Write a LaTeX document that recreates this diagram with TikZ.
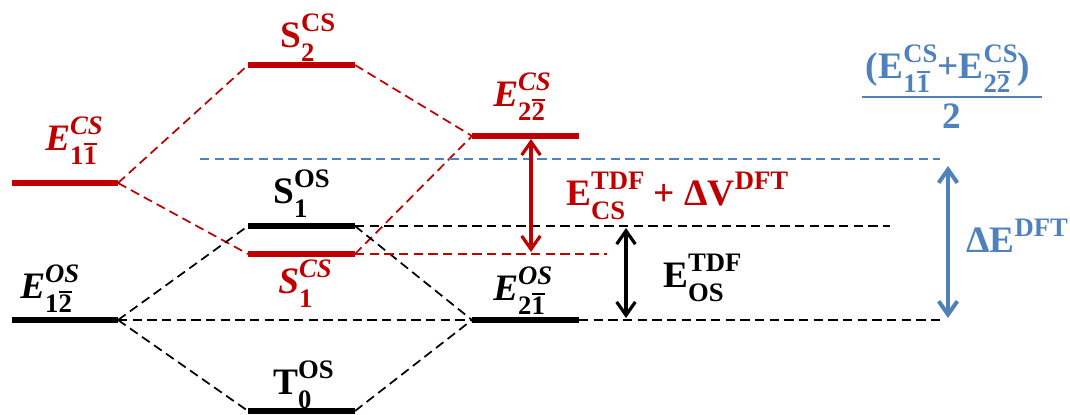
\documentclass[tikz,border=0pt]{standalone}
\usepackage{fontspec}
\setmainfont{Liberation Serif}
\usetikzlibrary{arrows.meta}

\definecolor{cred}{RGB}{192,0,0}
\definecolor{cblue}{RGB}{79,129,189}

% base letter with a stacked superscript (#2) and subscript (#3)
\newcommand\sps[3]{{#1}{\fontsize{20}{20}\selectfont
  \setbox0\hbox{#2}\setbox2\hbox{#3}%
  \dimen0=\wd0 \ifdim\wd2>\dimen0 \dimen0=\wd2 \fi
  \rlap{\raise12pt\box0}\rlap{\lower11pt\box2}\kern\dimen0}}
% digit with an overbar
\newcommand\ob[1]{\vbox{\hrule height 1.5pt\kern1.3pt\hbox{#1}}}

\tikzset{
  x=0.75pt, y=-0.75pt,
  lvline/.style={line width=4.5pt},
  dlink/.style={line width=1.3pt, dash pattern=on 7pt off 4pt},
  gaparrow/.style={line width=2.4pt,
    {Straight Barb[length=10pt,width=14pt]}-{Straight Barb[length=10pt,width=14pt]}},
  lbl/.style={font=\fontsize{28}{32}\selectfont\bfseries, inner sep=0pt, anchor=base west},
}

\begin{document}
\begin{tikzpicture}
\useasboundingbox (0,0) rectangle (1070,414);

% level end points
\coordinate (e11L) at (12,183);  \coordinate (e11R) at (118,183);
\coordinate (s2L)  at (248,65);  \coordinate (s2R)  at (355,65);
\coordinate (e22L) at (472,136); \coordinate (e22R) at (579,136);
\coordinate (s1oL) at (248,226); \coordinate (s1oR) at (355,226);
\coordinate (s1cL) at (248,254); \coordinate (s1cR) at (355,254);
\coordinate (e12L) at (12,320);  \coordinate (e12R) at (118,320);
\coordinate (e21L) at (472,320); \coordinate (e21R) at (579,320);
\coordinate (t0L)  at (248,411); \coordinate (t0R)  at (355,411);

% guide line ends
\coordinate (avgS) at (200,159); \coordinate (avgE) at (940,159);
\coordinate (s1oE) at (890,226);
\coordinate (s1cE) at (607,254);
\coordinate (e21E) at (942,320);

% arrow ends
\coordinate (rA) at (531,139); \coordinate (rB) at (531,252);
\coordinate (kA) at (626,228); \coordinate (kB) at (626,318);
\coordinate (bA) at (948,166); \coordinate (bB) at (948,318);

% fraction bar
\coordinate (fracL) at (862,97); \coordinate (fracR) at (1042,97);

% correlation lines
\draw[dlink, cred] (e11R) -- (s2L) (e11R) -- (s1cL) (s2R) -- (e22L) (s1cR) -- (e22L);
\draw[dlink, black] (e12R) -- (s1oL) (e12R) -- (t0L) (s1oR) -- (e21L) (t0R) -- (e21L);
\draw[dlink, black] (e12R) -- (e21L) (e21R) -- (e21E) (s1oR) -- (s1oE);
\draw[dlink, cred] (s1cR) -- (s1cE);
\draw[dlink, cblue] (avgS) -- (avgE);

% levels
\draw[lvline, cred] (e11L) -- (e11R) (s2L) -- (s2R) (e22L) -- (e22R) (s1cL) -- (s1cR);
\draw[lvline, black] (e12L) -- (e12R) (e21L) -- (e21R) (s1oL) -- (s1oR) (t0L) -- (t0R);

% energy gaps
\draw[gaparrow, cred] (rA) -- (rB);
\draw[gaparrow, black] (kA) -- (kB);
\draw[gaparrow, cblue, line width=3pt] (bA) -- (bB);
\draw[cblue, line width=2.2pt] (fracL) -- (fracR);

% labels
\node[lbl, text=cred] (tE11) at (45,150) {\sps{\itshape E}{\itshape CS}{1\ob{1}}};
\node[lbl, text=cred] (tS2) at (280,47) {\sps{S}{CS}{2}};
\node[lbl, text=cred] (tE22) at (493,106) {\sps{\itshape E}{\itshape CS}{2\ob{2}}};
\node[lbl] (tS1o) at (273,203) {\sps{S}{OS}{1}};
\node[lbl, text=cred] (tS1c) at (278,293) {\sps{\itshape S}{\itshape CS}{1}};
\node[lbl] (tT0) at (273,394) {\sps{T}{OS}{0}};
\node[lbl] (tE12) at (20,298) {\sps{\itshape E}{\itshape OS}{1\ob{2}}};
\node[lbl] (tE21) at (493,300) {\sps{\itshape E}{\itshape OS}{2\ob{1}}};
\node[lbl] (tEos) at (663,287) {\sps{E}{TDF}{OS}};
\node[lbl, text=cred] (tEcs) at (566,205) {\sps{E}{TDF}{CS} + Δ\sps{V}{DFT}{}};
\node[lbl, text=cblue] (tdE) at (966,252) {Δ\sps{E}{DFT}{}};
\node[lbl, text=cblue, anchor=base] (tnum) at (948,78) {(\sps{E}{CS}{1\ob{1}}+\sps{E}{CS}{2\ob{2}})};
\node[lbl, text=cblue, anchor=base] (tden) at (952,128) {2};
\end{tikzpicture}
\end{document}
